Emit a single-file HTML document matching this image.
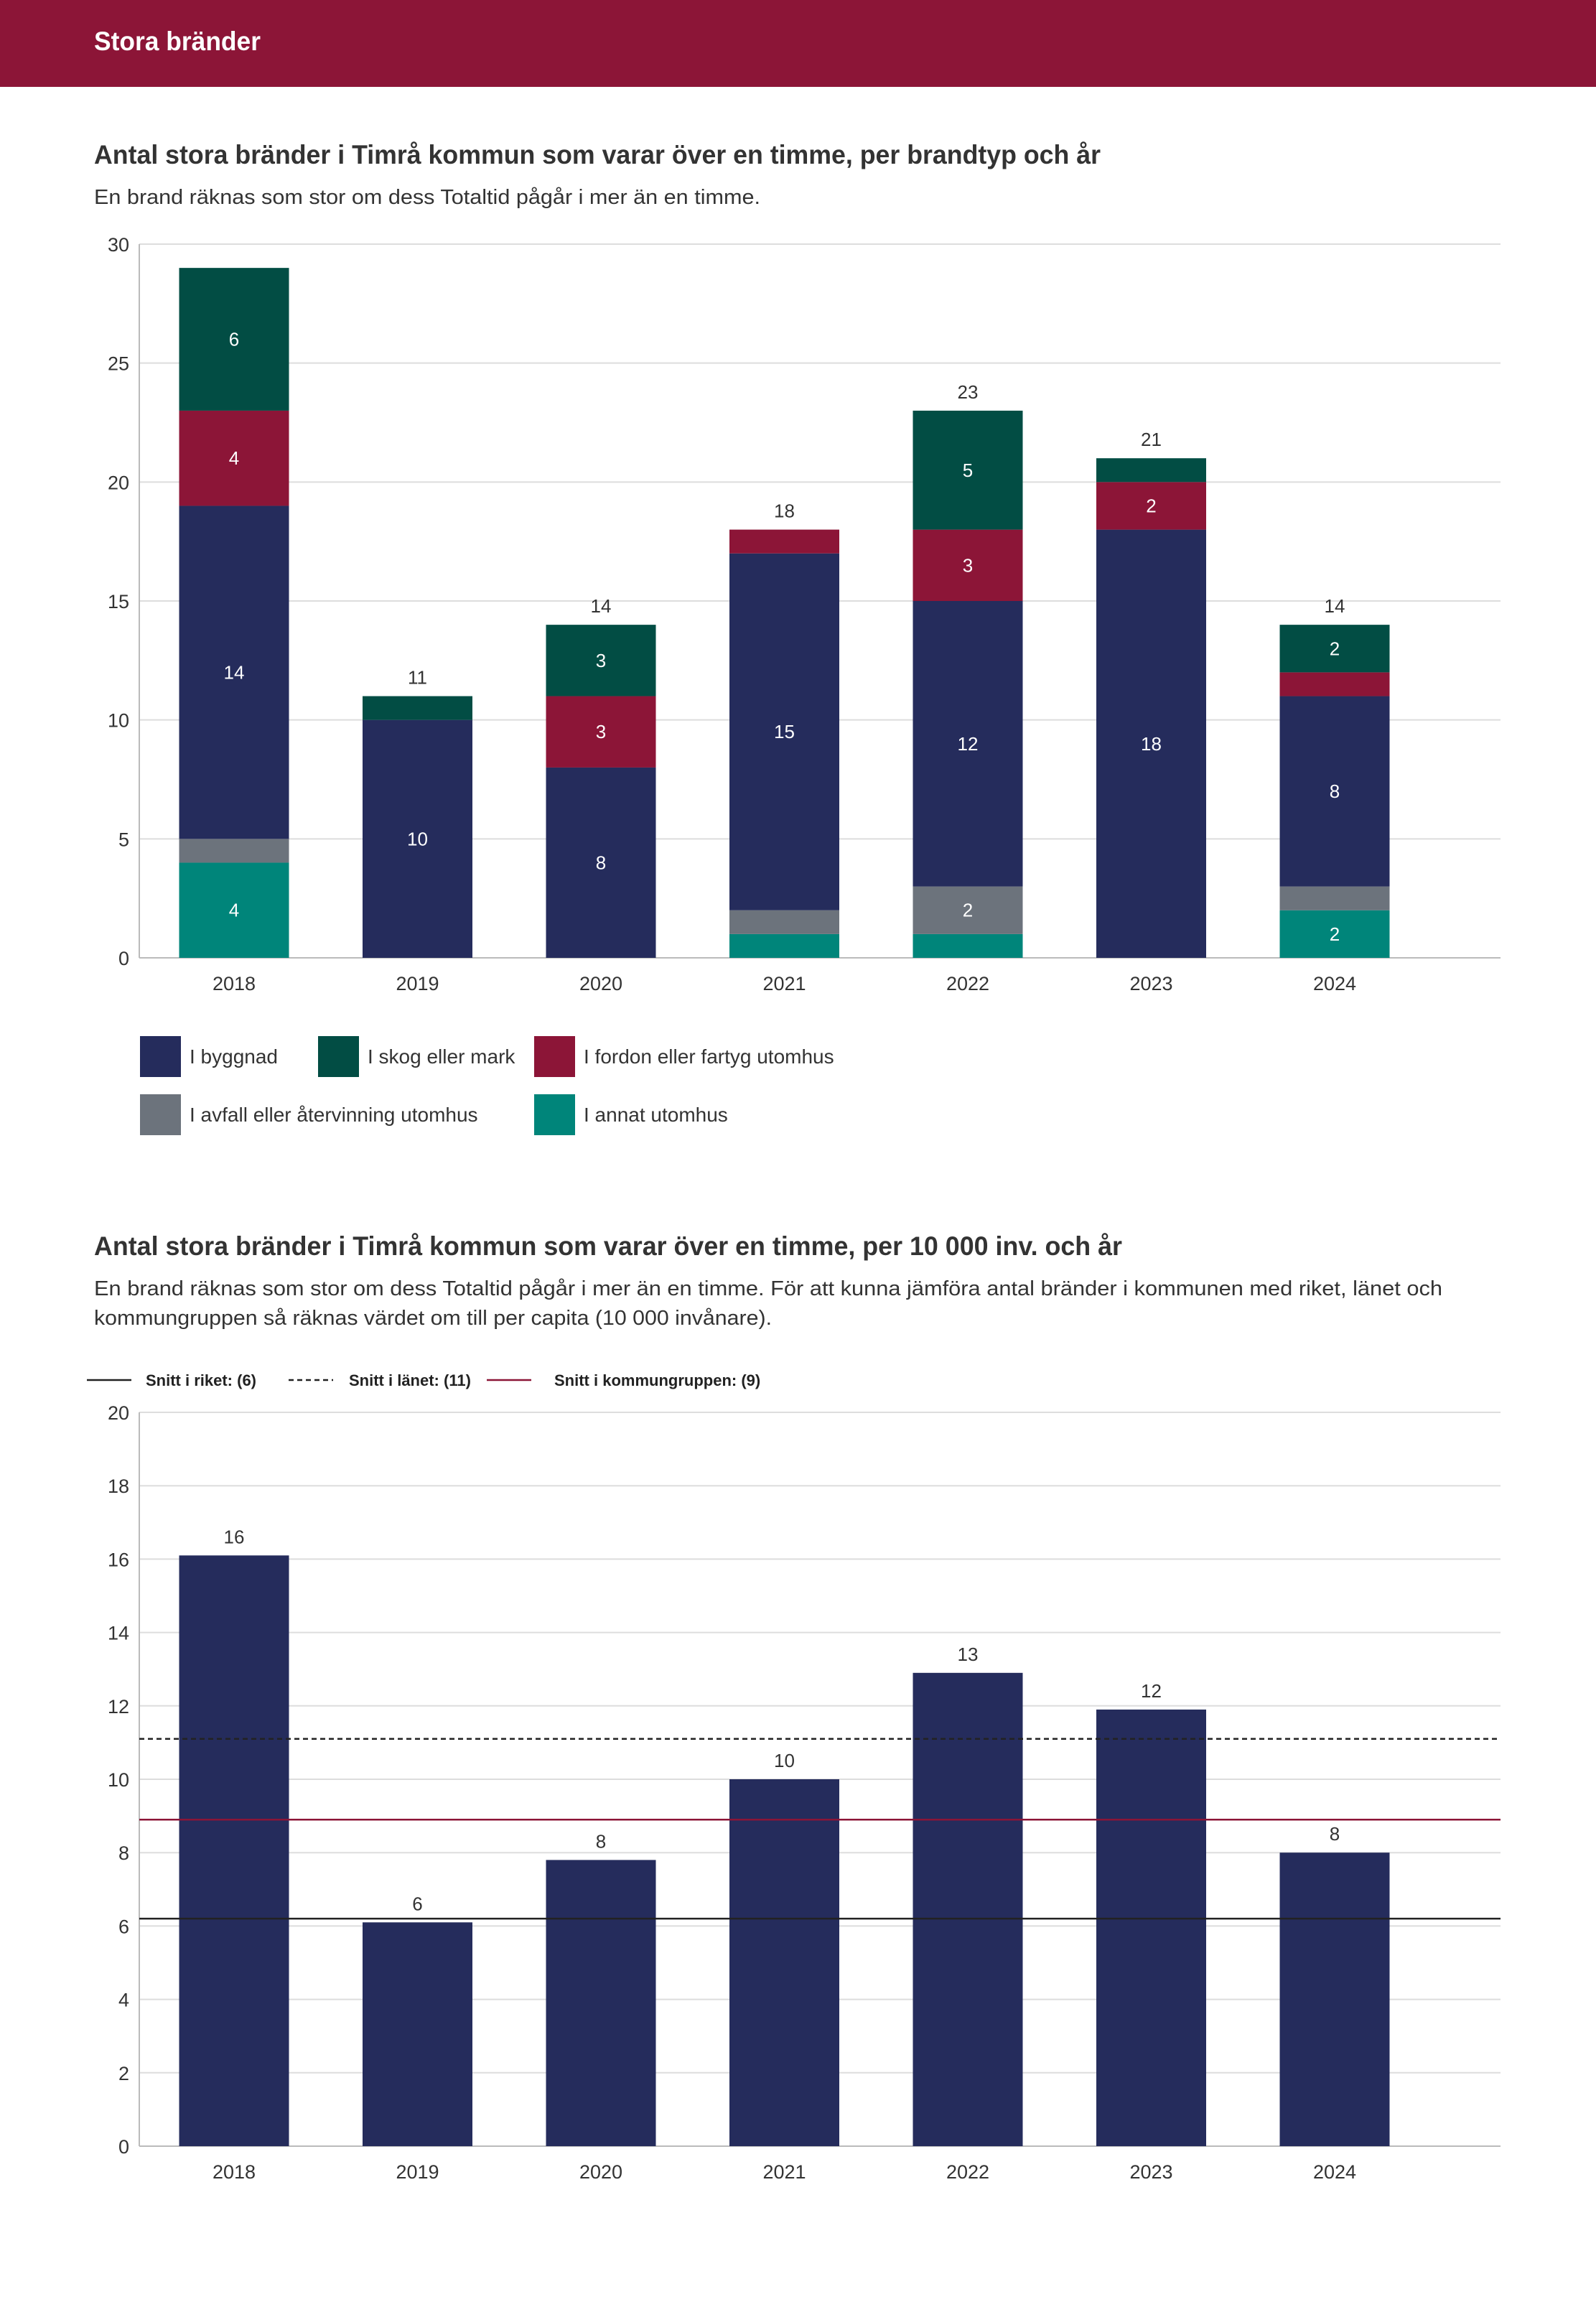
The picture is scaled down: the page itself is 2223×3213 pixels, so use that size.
<!DOCTYPE html>
<html><head><meta charset="utf-8"><style>
html,body{margin:0;padding:0;background:#fff;}
svg{display:block;font-family:"Liberation Sans",sans-serif;}
</style></head><body>
<svg id="page" width="2223" height="3213" viewBox="0 0 2223 3213" xmlns="http://www.w3.org/2000/svg">
<rect x="0" y="0" width="2223" height="121" fill="#8c1537"/>
<text x="131" y="70" font-size="37" font-weight="bold" fill="#fff" textLength="232" lengthAdjust="spacingAndGlyphs">Stora bränder</text>

<text x="131" y="228" font-size="37" font-weight="bold" fill="#333" textLength="1402" lengthAdjust="spacingAndGlyphs">Antal stora bränder i Timrå kommun som varar över en timme, per brandtyp och år</text>
<text x="131" y="284" font-size="29" fill="#333" textLength="928" lengthAdjust="spacingAndGlyphs">En brand räknas som stor om dess Totaltid pågår i mer än en timme.</text>
<g id="chart1"></g>
<g id="legend1"></g>

<text x="131" y="1748" font-size="37" font-weight="bold" fill="#333" textLength="1432" lengthAdjust="spacingAndGlyphs">Antal stora bränder i Timrå kommun som varar över en timme, per 10 000 inv. och år</text>
<text x="131" y="1804" font-size="29" fill="#333" textLength="1878" lengthAdjust="spacingAndGlyphs">En brand räknas som stor om dess Totaltid pågår i mer än en timme. För att kunna jämföra antal bränder i kommunen med riket, länet och</text>
<text x="131" y="1845" font-size="29" fill="#333" textLength="944" lengthAdjust="spacingAndGlyphs">kommungruppen så räknas värdet om till per capita (10 000 invånare).</text>
<g id="legend2"></g>
<g id="chart2"></g>
</svg>
<script>
const years = ["2018","2019","2020","2021","2022","2023","2024"];
const seriesNames = ["I annat utomhus","I avfall eller återvinning utomhus","I byggnad","I fordon eller fartyg utomhus","I skog eller mark"];
const seriesColors = ["#00857a","#6c737c","#252c5c","#8c1537","#024d44"];
const annat = [4,0,0,1,1,0,2];
const avfall = [1,0,0,1,2,0,1];
const byggnad = [14,10,8,15,12,18,8];
const fordon = [4,0,3,1,3,2,1];
const skog = [6,1,3,0,5,1,2];
const ticks1 = [0,5,10,15,20,25,30];

const perCapita = [16.1,6.1,7.8,10.0,12.9,11.9,8.0];
const perCapitaLabels = ["16","6","8","10","13","12","8"];
const ticks2 = [0,2,4,6,8,10,12,14,16,18,20];
const refNames = ["Snitt i riket: (6)","Snitt i länet: (11)","Snitt i kommungruppen: (9)"];
const refValues = [6.2,11.1,8.9];

const NS="http://www.w3.org/2000/svg";
function mk(tag, attrs, parent){const e=document.createElementNS(NS,tag);for(const k in attrs)e.setAttribute(k,attrs[k]);parent.appendChild(e);return e;}

const xL=194,xR=2090,x0=326,step=255.5,bw=153;
function xc(i){return x0+i*step;}

// Chart 1
const c1=document.getElementById('chart1');
const y1t=340,y1b=1334,max1=30;
function y1(v){return y1b-(v/max1)*(y1b-y1t);}
ticks1.forEach(t=>{
  const l=mk('line',{x1:xL,x2:xR,y1:y1(t),y2:y1(t),stroke:t===0?'#bbb':'#ddd','stroke-width':2},c1);
  
  
  const tx=mk('text',{x:180,y:y1(t)+10,'font-size':27,fill:'#333','text-anchor':'end'},c1);
  tx.textContent=t;
  
  
});
const ax1=mk('line',{x1:xL,x2:xL,y1:y1t,y2:y1b,stroke:'#bbb','stroke-width':2},c1);


const stacks=[annat,avfall,byggnad,fordon,skog];
years.forEach((yr,i)=>{
  let cum=0;
  stacks.forEach((s,k)=>{
    const v=s[i]; if(!v)return;
    const r=mk('rect',{x:xc(i)-bw/2,y:y1(cum+v),width:bw,height:y1(cum)-y1(cum+v),fill:seriesColors[k]},c1);
    
    
    if(v>=2){
      const t=mk('text',{x:xc(i),y:(y1(cum)+y1(cum+v))/2+9,'font-size':26,fill:'#fff','text-anchor':'middle'},c1);
      t.textContent=v;
      
      
    }
    cum+=v;
  });
  if(cum<=max1-2){
    const t=mk('text',{x:xc(i),y:y1(cum)-17,'font-size':26,fill:'#333','text-anchor':'middle'},c1);
    t.textContent=cum;
    
    
  }
  const xt=mk('text',{x:xc(i),y:1379,'font-size':27,fill:'#333','text-anchor':'middle'},c1);
  xt.textContent=yr;
  
  
});

// Legend 1
const lg1=document.getElementById('legend1');
const legOrder=[2,4,3,1,0];
const legPos=[[195,1443],[443,1443],[744,1443],[195,1524],[744,1524]];
legOrder.forEach((k,j)=>{
  const [lx,ly]=legPos[j];
  const r=mk('rect',{x:lx,y:ly,width:57,height:57,fill:seriesColors[k]},lg1);
  
  
  const t=mk('text',{x:lx+69,y:ly+38,'font-size':28,fill:'#333'},lg1);
  t.textContent=seriesNames[k];
  
  
});

// Legend 2
const lg2=document.getElementById('legend2');
const refStyles=[{stroke:'#222',dash:''},{stroke:'#222',dash:'7,5'},{stroke:'#8c1537',dash:''}];
const lg2Pos=[[121,203],[402,486],[678,772]];
refNames.forEach((n,j)=>{
  const l=mk('line',{x1:lg2Pos[j][0],x2:lg2Pos[j][0]+62,y1:1922,y2:1922,stroke:refStyles[j].stroke,'stroke-width':2.5},lg2);
  if(refStyles[j].dash)l.setAttribute('stroke-dasharray',refStyles[j].dash);
  
  
  const t=mk('text',{x:lg2Pos[j][1],y:1930,'font-size':22,'font-weight':'bold',fill:'#222'},lg2);
  t.textContent=n;
  
  
});

// Chart 2
const c2=document.getElementById('chart2');
const y2t=1967,y2b=2989,max2=20;
function y2(v){return y2b-(v/max2)*(y2b-y2t);}
ticks2.forEach(t=>{
  const l=mk('line',{x1:xL,x2:xR,y1:y2(t),y2:y2(t),stroke:t===0?'#bbb':'#ddd','stroke-width':2},c2);
  
  
  const tx=mk('text',{x:180,y:y2(t)+10,'font-size':27,fill:'#333','text-anchor':'end'},c2);
  tx.textContent=t;
  
  
});
const ax2=mk('line',{x1:xL,x2:xL,y1:y2t,y2:y2b,stroke:'#bbb','stroke-width':2},c2);


years.forEach((yr,i)=>{
  const v=perCapita[i];
  const r=mk('rect',{x:xc(i)-bw/2,y:y2(v),width:bw,height:y2b-y2(v),fill:'#252c5c'},c2);
  
  
  const t=mk('text',{x:xc(i),y:y2(v)-17,'font-size':26,fill:'#333','text-anchor':'middle'},c2);
  t.textContent=perCapitaLabels[i];
  
  
  const xt=mk('text',{x:xc(i),y:3034,'font-size':27,fill:'#333','text-anchor':'middle'},c2);
  xt.textContent=yr;
  
  
});
refValues.forEach((v,j)=>{
  const l=mk('line',{x1:xL,x2:xR,y1:y2(v),y2:y2(v),stroke:refStyles[j].stroke,'stroke-width':2.5},c2);
  if(refStyles[j].dash)l.setAttribute('stroke-dasharray',refStyles[j].dash);
  
  
});
</script>
</body></html>
